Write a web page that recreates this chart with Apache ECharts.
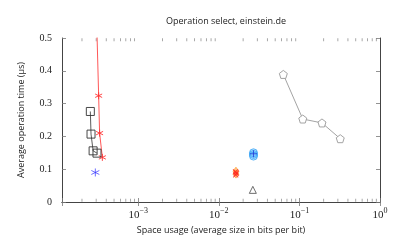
<!DOCTYPE html>
<html><head><meta charset="utf-8">
<script src="https://cdn.jsdelivr.net/npm/echarts@6/dist/echarts.min.js"></script>
<style>html,body{margin:0;padding:0;background:#fff}#c{width:407px;height:252px}</style>
</head><body><div id="c"></div>
<script>
// ---- data ----
const titleText = 'Operation select, einstein.de';
const xName = 'Space usage (average size in bits per bit)';
const yName = 'Average operation time (\u00b5s)';
const xMin = 1.13e-4, xMax = 1;
const yTicks = [0, 0.1, 0.2, 0.3, 0.4, 0.5];
const xMajorExp = [-3, -2, -1, 0];
const xMinorTicks = [2e-4,3e-4,4e-4,5e-4,6e-4,7e-4,8e-4,9e-4,
  2e-3,3e-3,4e-3,5e-3,6e-3,7e-3,8e-3,9e-3,
  2e-2,3e-2,4e-2,5e-2,6e-2,7e-2,8e-2,9e-2,
  2e-1,3e-1,4e-1,5e-1,6e-1,7e-1,8e-1,9e-1];
const redStars   = [[2.86e-4, 0.80], [3.22e-4, 0.324], [3.31e-4, 0.210], [3.58e-4, 0.136]];
const blackSquares = [[2.54e-4, 0.276], [2.59e-4, 0.207], [2.75e-4, 0.156], [3.07e-4, 0.149]];
const blueStar   = [[2.93e-4, 0.090]];
const cyanCircles = [[0.0269, 0.150], [0.0269, 0.145], [0.0269, 0.140]];
const bluePlus   = [[0.0269, 0.147]];
const orangeDiamonds = [[0.0163, 0.094], [0.0163, 0.085]];
const redCrosses = [[0.0161, 0.092], [0.0165, 0.088], [0.0162, 0.083]];
const triangle   = [[0.0264, 0.037]];
const grayPentagons = [[0.0631, 0.389], [0.110, 0.253], [0.1905, 0.241], [0.321, 0.193]];

const ASTER = 'path://M0,-1L0,1M-0.866,-0.5L0.866,0.5M-0.866,0.5L0.866,-0.5';
const PLUS = 'path://M0,-1L0,1M-1,0L1,0';
const CROSS = 'path://M-1,-1L1,1M-1,1L1,-1';
const PENT = 'path://M0,-1L0.951,-0.309L0.588,0.809L-0.588,0.809L-0.951,-0.309Z';
const DIAM = 'path://M0,-1L0.7,0L0,1L-0.7,0Z';

const frame = '#444';
function xLabel(v){
  const e = Math.log10(v), r = Math.round(e);
  if (Math.abs(e - r) > 1e-6 || xMajorExp.indexOf(r) < 0) return '';
  const s = (r < 0 ? '\u2212' + (-r) : '' + r);
  return '{base|10}{sup|' + s + '}';
}
const serif = '"Liberation Serif","DejaVu Serif",serif';
const sans = '"Open Sans","DejaVu Sans",sans-serif';

const chart = echarts.init(document.getElementById('c'), null, {renderer:'canvas'});
const strokeItem = (c, w) => ({color: c, borderColor: c, borderWidth: w || 0.9});
chart.setOption({
  animation: false,
  backgroundColor: '#fff',
  title: {text: titleText, left: 221, top: 12, textAlign: 'center',
    textStyle: {fontFamily: sans, fontSize: 9, fontWeight: 'normal', color: '#222'}},
  grid: {left: 62, right: 27, top: 38, bottom: 50},
  xAxis: [{
    type: 'log', logBase: 10, min: xMin, max: xMax,
    name: xName, nameLocation: 'middle', nameGap: 22,
    nameTextStyle: {fontFamily: sans, fontSize: 9, color: '#222'},
    axisLine: {show: true, lineStyle: {color: frame, width: 1}},
    axisTick: {show: true, inside: true, length: 4, lineStyle: {color: '#777', width: 0.8}},
    minorTick: {show: false}, splitLine: {show: false},
    axisLabel: {formatter: xLabel, margin: 5, color: '#222', fontFamily: serif, fontSize: 11,
      rich: {base: {fontFamily: serif, fontSize: 11, color: '#222', verticalAlign: 'bottom'},
             sup: {fontFamily: serif, fontSize: 8, color: '#222', verticalAlign: 'bottom', padding: [0, 0, 6, 0]}}}
  }, {
    type: 'log', logBase: 10, min: xMin, max: xMax, position: 'top',
    axisLine: {show: true, lineStyle: {color: frame, width: 1}},
    axisTick: {show: true, inside: true, length: 4, lineStyle: {color: '#777', width: 0.8}},
    axisLabel: {show: false}, splitLine: {show: false}
  }],
  yAxis: [{
    type: 'value', min: 0, max: 0.5, interval: 0.1,
    name: yName, nameLocation: 'middle', nameGap: 36, nameRotate: 90,
    nameTextStyle: {fontFamily: sans, fontSize: 9, color: '#222'},
    axisLine: {show: true, lineStyle: {color: frame, width: 1}},
    axisTick: {show: true, inside: true, length: 4, lineStyle: {color: '#777', width: 0.8}},
    splitLine: {show: false},
    axisLabel: {fontFamily: serif, fontSize: 10, color: '#222', margin: 10,
      formatter: v => { const t = yTicks.find(q => Math.abs(q - v) < 1e-9); return t === undefined ? '' : String(+t.toFixed(1)); }}
  }, {
    type: 'value', min: 0, max: 0.5, interval: 0.1, position: 'right',
    axisLine: {show: true, lineStyle: {color: frame, width: 1}},
    axisTick: {show: true, inside: true, length: 4, lineStyle: {color: '#777', width: 0.8}},
    splitLine: {show: false}, axisLabel: {show: false}
  }],
  series: [
    {type: 'scatter', silent: true, clip: false, data: xMinorTicks.map(v => [v, 0]),
      symbol: 'rect', symbolSize: [0.8, 3], symbolOffset: [0, -1.8], itemStyle: {color: '#777'}, z: 1},
    {type: 'scatter', silent: true, clip: false, data: xMinorTicks.map(v => [v, 0.5]),
      symbol: 'rect', symbolSize: [0.8, 3], symbolOffset: [0, 1.8], itemStyle: {color: '#777'}, z: 1},
    {type: 'line', data: redStars, symbol: ASTER, symbolSize: 7, showAllSymbol: true,
      lineStyle: {color: '#ff4444', width: 0.9}, itemStyle: strokeItem('#ff3333', 0.9), z: 3},
    {type: 'line', data: blackSquares, symbol: 'rect', symbolSize: 8,
      lineStyle: {color: '#333', width: 0.8}, itemStyle: {color: 'rgba(0,0,0,0)', borderColor: '#333', borderWidth: 0.9}, z: 3},
    {type: 'scatter', data: blueStar, symbol: ASTER, symbolSize: 8, itemStyle: strokeItem('#3333ff', 0.9), z: 3},
    {type: 'scatter', data: cyanCircles, symbol: 'circle', symbolSize: 8,
      itemStyle: {color: 'rgba(80,180,255,0.45)', borderColor: '#2a9df4', borderWidth: 0.9}, z: 3},
    {type: 'scatter', data: bluePlus, symbol: PLUS, symbolSize: 7, itemStyle: strokeItem('#1f3bd6', 1), z: 4},
    {type: 'scatter', data: orangeDiamonds, symbol: DIAM, symbolSize: [6, 8],
      itemStyle: {color: 'rgba(255,150,40,0.7)', borderColor: '#ff9a2a', borderWidth: 0.8}, z: 3},
    {type: 'scatter', data: redCrosses, symbol: CROSS, symbolSize: 5, itemStyle: strokeItem('#ff2222', 1.1), z: 4},
    {type: 'scatter', data: triangle, symbol: 'triangle', symbolSize: 7,
      itemStyle: {color: 'rgba(0,0,0,0)', borderColor: '#333', borderWidth: 0.9}, z: 3},
    {type: 'line', data: grayPentagons, symbol: PENT, symbolSize: 8,
      lineStyle: {color: '#999', width: 0.9}, itemStyle: {color: '#fff', borderColor: '#999', borderWidth: 0.9}, z: 3}
  ]
});
</script></body></html>
